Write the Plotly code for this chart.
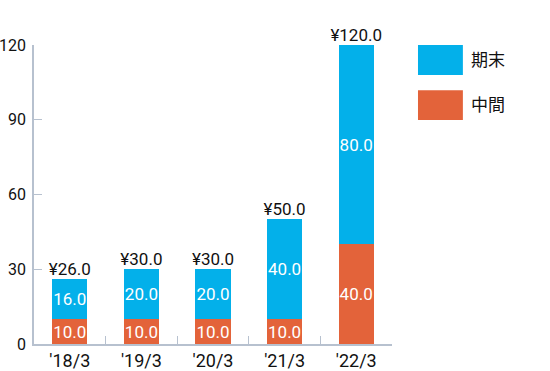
import plotly.graph_objects as go

categories = ["'18/3", "'19/3", "'20/3", "'21/3", "'22/3"]
interim = [10.0, 10.0, 10.0, 10.0, 40.0]
year_end = [16.0, 20.0, 20.0, 40.0, 80.0]
series_names = ["中間", "期末"]
totals = [a + b for a, b in zip(interim, year_end)]
y_ticks = [0, 30, 60, 90, 120]

BLUE = "#03b0ea"
ORANGE = "#e3633a"
AXIS = "#b7c1cf"
FONT = "Roboto, 'Noto Sans CJK JP', sans-serif"

fig = go.Figure()
fig.add_trace(go.Bar(
    x=categories, y=interim, name=series_names[0], marker_color=ORANGE,
    marker_line_width=0, width=0.49,
    text=[f"{v:.1f}" for v in interim], textposition="inside", textangle=0,
    insidetextanchor="middle", textfont=dict(color="white", size=17, family=FONT),
    hoverinfo="skip"))
fig.add_trace(go.Bar(
    x=categories, y=year_end, name=series_names[1], marker_color=BLUE,
    marker_line_width=0, width=0.49,
    text=[f"{v:.1f}" for v in year_end], textposition="inside", textangle=0,
    insidetextanchor="middle", textfont=dict(color="white", size=17, family=FONT),
    hoverinfo="skip"))
fig.add_trace(go.Scatter(
    x=categories, y=totals, mode="text",
    text=[f"¥{v:.1f}" for v in totals], textposition="top center",
    textfont=dict(color="#111111", size=17, family=FONT),
    showlegend=False, hoverinfo="skip", cliponaxis=False))

# custom legend (top: 期末, bottom: 中間)
legend_items = [(series_names[1], BLUE, 1.0, 0.8997), (series_names[0], ORANGE, 0.849, 0.749)]
for name, col, y1, y0 in legend_items:
    fig.add_shape(type="rect", xref="paper", yref="paper",
                  x0=1.0726, x1=1.198, y0=y0, y1=y1,
                  fillcolor=col, line_width=0)
    fig.add_annotation(xref="paper", yref="paper", x=1.215, y=(y0 + y1) / 2,
                       text=name, showarrow=False, xanchor="left", yanchor="middle",
                       font=dict(size=17, color="#111111", family=FONT))

fig.update_layout(
    barmode="stack", width=550, height=371,
    margin=dict(l=34, r=158, t=45, b=27, autoexpand=False),
    paper_bgcolor="white", plot_bgcolor="white",
    showlegend=False,
    uniformtext=dict(minsize=17, mode="show"),
    font=dict(family=FONT, size=17, color="#111111"),
)
fig.update_xaxes(type="category", showline=True, linecolor=AXIS, linewidth=1.5,
                 ticks="inside", tickson="boundaries", tickcolor=AXIS, ticklen=8,
                 tickfont=dict(size=18, color="#111111"), showgrid=False,
                 automargin=False)
fig.update_yaxes(range=[0, 120], tickvals=y_ticks, showline=True, linecolor=AXIS,
                 linewidth=1.5, ticks="inside", tickcolor=AXIS, ticklen=8,
                 tickfont=dict(size=16, color="#111111"), showgrid=False,
                 zeroline=False, ticklabelstandoff=3, automargin=False)

fig.write_html("out.html", config={"displayModeBar": False},
               post_script="document.body.style.margin='0';")
